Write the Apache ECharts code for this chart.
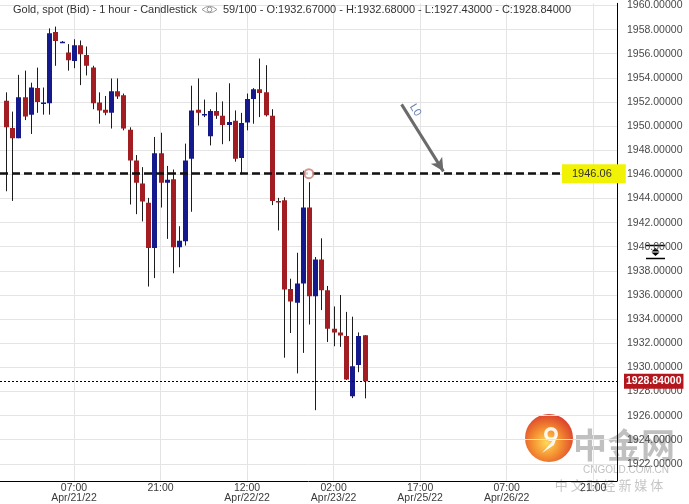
<!DOCTYPE html>
<html>
<head>
<meta charset="utf-8">
<script src="https://cdn.jsdelivr.net/npm/echarts@6/dist/echarts.min.js"></script>
<style>
  html, body { margin: 0; padding: 0; background: #ffffff; }
  #chart { width: 689px; height: 504px; }
</style>
</head>
<body>
<div id="chart"></div>
<script>
// Gold spot (Bid), hourly candles; index = hour slot on the time axis
const opens = [
  1952.10, 1949.85, 1949.00, 1952.40, 1950.95, 1953.15, 1951.90, 1951.90, 1957.80, 1956.95,
  1956.10, 1955.40, 1956.70, 1955.90, 1954.85, 1951.95, 1951.35, 1951.10, 1952.90, 1952.55,
  1949.70, 1947.15, 1945.25, 1943.65, 1939.90, 1947.75, 1945.30, 1945.60, 1939.95, 1940.45,
  1947.30, 1951.35, 1950.95, 1949.15, 1951.25, 1950.85, 1950.10, 1950.45, 1947.35, 1950.30,
  1952.25, 1953.05, 1952.80, 1950.85, 1943.80, 1943.85, 1936.50, 1935.35, 1936.95, 1943.25,
  1935.90, 1938.95, 1936.40, 1933.20, 1932.90, 1932.60, 1927.60, 1930.20, 1932.67
];
const closes = [
  1949.90, 1949.00, 1952.40, 1950.80, 1953.20, 1952.00, 1951.95, 1957.70, 1957.05, 1957.00,
  1955.45, 1956.70, 1955.95, 1955.00, 1951.90, 1951.30, 1951.10, 1952.90, 1952.45, 1949.80,
  1947.15, 1945.30, 1943.75, 1939.90, 1947.75, 1945.30, 1945.55, 1939.95, 1940.50, 1947.15,
  1951.30, 1951.10, 1951.00, 1951.25, 1950.85, 1950.10, 1950.35, 1947.30, 1950.25, 1952.25,
  1953.05, 1952.75, 1950.90, 1943.80, 1943.75, 1936.45, 1935.45, 1936.95, 1943.25, 1935.90,
  1938.95, 1936.40, 1933.20, 1932.90, 1932.65, 1929.00, 1930.10, 1932.60, 1928.84
];
const highs = [
  1952.80, 1951.20, 1954.25, 1954.60, 1953.60, 1954.85, 1953.20, 1958.10, 1958.25, 1957.05,
  1956.80, 1957.20, 1957.10, 1956.60, 1955.00, 1952.80, 1952.50, 1953.95, 1953.95, 1952.70,
  1949.90, 1947.60, 1946.60, 1944.05, 1949.10, 1949.45, 1946.70, 1946.40, 1941.70, 1948.55,
  1953.35, 1953.95, 1952.20, 1951.40, 1952.80, 1952.05, 1953.55, 1951.30, 1951.10, 1952.70,
  1953.15, 1955.60, 1955.05, 1951.40, 1944.05, 1944.10, 1937.35, 1939.50, 1946.30, 1945.35,
  1939.15, 1940.70, 1936.75, 1935.05, 1936.00, 1934.60, 1934.20, 1932.90, 1932.68
];
const lows = [
  1944.60, 1943.80, 1949.00, 1950.50, 1949.35, 1951.10, 1950.95, 1950.95, 1955.00, 1956.90,
  1954.60, 1954.80, 1953.40, 1954.20, 1951.40, 1950.20, 1950.90, 1949.80, 1952.25, 1949.65,
  1943.50, 1942.70, 1942.10, 1936.70, 1937.40, 1943.25, 1940.65, 1937.80, 1938.30, 1940.10,
  1942.90, 1950.05, 1950.75, 1948.40, 1950.60, 1948.50, 1948.75, 1947.05, 1946.00, 1949.65,
  1950.20, 1950.75, 1950.80, 1943.45, 1941.35, 1930.80, 1932.85, 1929.50, 1931.20, 1933.55,
  1926.45, 1934.75, 1932.10, 1931.75, 1931.70, 1928.95, 1927.45, 1929.60, 1927.43
];

// Reference level L1 and the hour slot where price touched it
const levelL1 = 1946.06;
const touchSlot = 49;
const lastClose = 1928.84;

// Price axis ticks
const priceTicks = [1922, 1924, 1926, 1928, 1930, 1932, 1934, 1936, 1938, 1940,
  1942, 1944, 1946, 1948, 1950, 1952, 1954, 1956, 1958, 1960];

// Time axis ticks (hour slots) and their labels
const timeSlots = [11, 25, 39, 53, 67, 81, 95];
const timeLabels = ['07:00\nApr/21/22', '21:00', '12:00\nApr/22/22', '02:00\nApr/23/22',
  '17:00\nApr/25/22', '07:00\nApr/26/22', '21:00'];

const RED = '#a11d22';
const BLUE = '#141a8c';
const WICK = '#1c1c1c';
const FONT = '"Liberation Sans", Arial, sans-serif';
const CJK = '"Noto Sans CJK SC", sans-serif';

const candles = opens.map((o, i) => [i, o, closes[i], lows[i], highs[i]]);

const chart = echarts.init(document.getElementById('chart'), null, { renderer: 'canvas' });

chart.setOption({
  animation: false,
  backgroundColor: '#ffffff',
  grid: { left: 0, top: 0, right: 72, bottom: 21 },
  xAxis: {
    type: 'value',
    min: -0.97,
    max: 98.85,
    axisLine: { show: true, onZero: false, lineStyle: { color: '#000', width: 1 } },
    axisTick: { show: false, customValues: timeSlots },
    axisLabel: {
      customValues: timeSlots,
      formatter: v => timeLabels[timeSlots.indexOf(v)] || '',
      color: '#3a3a3a', fontSize: 10.5, fontFamily: FONT, lineHeight: 10.5, margin: 2
    },
    splitLine: { show: true, lineStyle: { color: '#e4e4e4', width: 1 } }
  },
  yAxis: {
    type: 'value',
    position: 'right',
    min: 1920.6,
    max: 1960.18,
    axisLine: { show: true, onZero: false, lineStyle: { color: '#000', width: 1 } },
    axisTick: { show: false, customValues: priceTicks },
    axisLabel: {
      customValues: priceTicks,
      formatter: v => Number(v).toFixed(5),
      color: '#4a4a4a', fontSize: 10.5, fontFamily: FONT, margin: 10
    },
    splitLine: { show: true, lineStyle: { color: '#e4e4e4', width: 1 } }
  },
  series: [
    {
      type: 'custom',
      data: candles,
      encode: { x: 0, y: [1, 2, 3, 4] },
      clip: true,
      renderItem(params, api) {
        const i = api.value(0);
        const o = api.value(1), c = api.value(2), l = api.value(3), h = api.value(4);
        const pH = api.coord([i, h]);
        const pL = api.coord([i, l]);
        const pO = api.coord([i, o]);
        const pC = api.coord([i, c]);
        const cx = Math.round(pH[0]) + 0.5;
        const top = Math.min(pO[1], pC[1]);
        let bh = Math.abs(pO[1] - pC[1]);
        if (bh < 1.5) bh = 1.5;
        return {
          type: 'group',
          children: [
            { type: 'line', shape: { x1: cx, y1: pH[1], x2: cx, y2: pL[1] },
              style: { stroke: WICK, lineWidth: 1 } },
            { type: 'rect', shape: { x: cx - 2.5, y: top, width: 5, height: bh },
              style: { fill: c >= o ? BLUE : RED } }
          ]
        };
      }
    },
    {
      type: 'scatter',
      data: [[touchSlot, levelL1]],
      symbol: 'emptyCircle',
      symbolSize: 9,
      z: 5,
      itemStyle: { color: '#c97a74', borderWidth: 1.5 },
      silent: true,
      markLine: {
        silent: true,
        symbol: ['none', 'none'],
        animation: false,
        data: [
          {
            yAxis: levelL1,
            lineStyle: { color: '#111', width: 2.5, type: [8, 4] },
            label: {
              show: true, position: 'end', distance: -55,
              formatter: levelL1.toFixed(2),
              backgroundColor: '#f2f205', color: '#333', fontSize: 11, fontFamily: FONT,
              padding: [4, 14, 4, 10]
            }
          },
          {
            yAxis: levelL1,
            lineStyle: { opacity: 0 },
            label: {
              show: true, position: 'insideStartTop', distance: [9, 5],
              formatter: 'L1', color: '#7a8bb0', fontSize: 11, fontFamily: FONT
            }
          },
          {
            yAxis: lastClose,
            lineStyle: { color: '#000', width: 1, type: [2, 2] },
            label: {
              show: true, position: 'end', distance: 7,
              formatter: lastClose.toFixed(5),
              backgroundColor: '#b3161c', color: '#fff', fontWeight: 'bold',
              fontSize: 10.5, fontFamily: FONT, padding: [2, 2, 2, 2]
            }
          },
          [
            { coord: [64.0, 1951.8], symbol: 'none' },
            {
              coord: [70.76, 1946.25], symbol: 'arrow', symbolSize: [10, 13],
              lineStyle: { color: '#6b6b6b', width: 3, type: 'solid' },
              label: {
                show: true, position: 'insideStartTop', distance: [6, 3],
                formatter: 'L0', color: '#6b82b5', fontSize: 11, fontFamily: FONT
              }
            }
          ]
        ]
      }
    }
  ],
  graphic: [
    // title line
    {
      type: 'text', x: 13, y: 9.5, z: 10,
      style: { text: 'Gold, spot (Bid) - 1 hour - Candlestick', fill: '#333',
        font: '11px ' + FONT, textVerticalAlign: 'middle' }
    },
    {
      type: 'bezierCurve', z: 10,
      shape: { x1: 202, y1: 9.5, x2: 217, y2: 9.5, cpx1: 209.5, cpy1: 3 },
      style: { fill: 'none', stroke: '#9a9a9a', lineWidth: 1 }
    },
    {
      type: 'bezierCurve', z: 10,
      shape: { x1: 202, y1: 9.5, x2: 217, y2: 9.5, cpx1: 209.5, cpy1: 16 },
      style: { fill: 'none', stroke: '#9a9a9a', lineWidth: 1 }
    },
    {
      type: 'circle', z: 10, shape: { cx: 209.5, cy: 9.5, r: 2.3 },
      style: { fill: 'none', stroke: '#9a9a9a', lineWidth: 1 }
    },
    {
      type: 'text', x: 223, y: 9.5, z: 10,
      style: { text: '59/100 - O:1932.67000 - H:1932.68000 - L:1927.43000 - C:1928.84000',
        fill: '#333', font: '11px ' + FONT, textVerticalAlign: 'middle' }
    },
    // scale toggle icon on the price axis
    {
      type: 'group', x: 643, y: 242, z: 10,
      children: [
        { type: 'rect', shape: { x: 0, y: 0, width: 25, height: 18 }, style: { fill: '#fff' } },
        { type: 'line', shape: { x1: 3, y1: 3.5, x2: 22, y2: 3.5 }, style: { stroke: '#000', lineWidth: 1.5 } },
        { type: 'polygon', shape: { points: [[12.5, 6], [8.5, 9.5], [16.5, 9.5]] }, style: { fill: '#000' } },
        { type: 'polygon', shape: { points: [[8.5, 10.5], [16.5, 10.5], [12.5, 14]] }, style: { fill: '#000' } },
        { type: 'line', shape: { x1: 3, y1: 16.5, x2: 22, y2: 16.5 }, style: { stroke: '#000', lineWidth: 1.5 } }
      ]
    },
    // publisher mark
    {
      type: 'group', z: 20,
      children: [
        {
          type: 'circle', shape: { cx: 549, cy: 438, r: 24 },
          style: {
            opacity: 0.92,
            fill: {
              type: 'radial', x: 0.45, y: 0.6, r: 0.6,
              colorStops: [
                { offset: 0, color: '#ffd54a' },
                { offset: 0.5, color: '#f3851f' },
                { offset: 1, color: '#d9321a' }
              ]
            }
          }
        },
        {
          type: 'ring', shape: { cx: 551, cy: 434, r: 7, r0: 3.5 },
          style: { fill: '#ffffff', opacity: 0.9 }
        },
        {
          type: 'polygon',
          shape: { points: [[557.5, 435], [554, 445], [542, 453], [550, 444], [554.5, 438]] },
          style: { fill: '#ffffff', opacity: 0.9 }
        },
        {
          type: 'text', x: 624, y: 445,
          style: { text: '中金网', fill: 'rgba(140,140,140,0.55)', font: 'bold 34px ' + CJK,
            textAlign: 'center', textVerticalAlign: 'middle' }
        },
        {
          type: 'text', x: 626, y: 470,
          style: { text: 'CNGOLD.COM.CN', fill: 'rgba(150,150,150,0.6)', font: '10px ' + FONT,
            textAlign: 'center', textVerticalAlign: 'middle' }
        },
        {
          type: 'text', x: 609, y: 485,
          style: { text: '中 文 财 经 新 媒 体', fill: 'rgba(150,150,150,0.55)', font: '13px ' + CJK,
            textAlign: 'center', textVerticalAlign: 'middle' }
        }
      ]
    }
  ]
});
</script>
</body>
</html>
